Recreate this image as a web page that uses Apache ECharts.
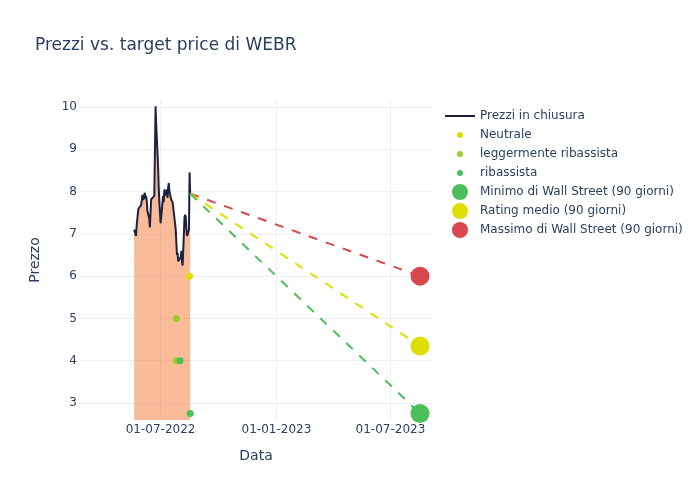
<!DOCTYPE html>
<html>
<head>
<meta charset="utf-8">
<script src="https://cdn.jsdelivr.net/npm/echarts@6/dist/echarts.min.js"></script>
<style>html,body{margin:0;padding:0;background:#fff}#c{width:700px;height:500px}</style>
</head>
<body>
<div id="c"></div>
<script>
// ---- data ----
const dates = ['2022-05-20','2022-05-23','2022-05-24','2022-05-25','2022-05-26','2022-05-27','2022-05-31',
'2022-06-01','2022-06-02','2022-06-03','2022-06-06','2022-06-07','2022-06-08','2022-06-09','2022-06-10',
'2022-06-13','2022-06-14','2022-06-15','2022-06-16','2022-06-17','2022-06-21','2022-06-22','2022-06-23',
'2022-06-24','2022-06-27','2022-06-28','2022-06-29','2022-06-30','2022-07-01','2022-07-05','2022-07-06',
'2022-07-07','2022-07-08','2022-07-11','2022-07-12','2022-07-13','2022-07-14','2022-07-15','2022-07-18',
'2022-07-19','2022-07-20','2022-07-21','2022-07-22','2022-07-25','2022-07-26','2022-07-27','2022-07-28',
'2022-07-29','2022-08-01','2022-08-02','2022-08-03','2022-08-04','2022-08-05','2022-08-08','2022-08-09',
'2022-08-10','2022-08-11','2022-08-12','2022-08-15','2022-08-16','2022-08-17'];
const closePrices = [7.1,6.95,7.2,7.35,7.5,7.6,7.68,
7.78,7.92,7.8,7.97,7.82,7.9,7.78,7.55,
7.35,7.15,7.5,7.82,7.85,7.9,7.88,10.02,
9.6,8.6,8.1,7.75,7.5,7.25,7.9,7.75,
8.05,7.9,8.05,7.85,8.1,8.2,8.0,7.8,
7.78,7.75,7.75,7.5,7.1,6.8,6.5,6.55,
6.35,6.33,6.45,6.6,6.35,6.25,7.4,7.45,
7.4,7.1,6.95,7.1,8.45,7.95];

const neutraleDates = ['2022-08-16'];
const neutraleValues = [6.0];
const leggermenteDates = ['2022-07-26','2022-07-26'];
const leggermenteValues = [5.0,4.0];
const ribassistaDates = ['2022-08-01','2022-08-17'];
const ribassistaValues = [4.0,2.75];

const targetDate = '2023-08-17';
const targetMin = 2.75;
const targetAvg = 4.35;
const targetMax = 6.0;

const yTicks = [3,4,5,6,7,8,9,10];
const xTickDates = ['2022-07-01','2023-01-01','2023-07-01'];
const xMinDate = '2022-02-23';
const xMaxDate = '2023-09-05';

// ---- build ----
const ts = s => { const p = s.split('-').map(Number); return new Date(p[0], p[1] - 1, p[2]).getTime(); };
const pad = n => (n < 10 ? '0' : '') + n;
const priceData = dates.map((d, i) => [ts(d), closePrices[i]]);
const pairs = (ds, vs) => ds.map((d, i) => [ts(d), vs[i]]);
const lastDate = ts(dates[dates.length - 1]);
const lastPrice = closePrices[closePrices.length - 1];
const tDate = ts(targetDate);

const FONT = 'DejaVu Sans';
const TXT = '#2a3f5f';
const RED = '#d8474e', YEL = '#dede00', GRN = '#4cbf5a', LGR = '#9ccc2e', NAVY = '#1c2340';

function legendItem(name, centerY, h, w, left, icon) {
  const l = {
    data: [name], left: left, top: centerY - 7, orient: 'vertical', padding: 0,
    itemWidth: w, itemHeight: h, itemGap: 0, selectedMode: false,
    textStyle: { fontFamily: FONT, fontSize: 12, color: TXT, lineHeight: 16 }
  };
  if (icon) l.icon = icon;
  return l;
}

const option = {
  animation: false,
  backgroundColor: '#fff',
  title: {
    text: 'Prezzi vs. target price di WEBR', left: 35, top: 37, padding: 0,
    textStyle: { fontFamily: FONT, fontSize: 17, fontWeight: 'normal', color: TXT }
  },
  legend: [
    legendItem('Prezzi in chiusura', 115, 2, 30, 445, 'rect'),
    legendItem('Neutrale', 134, 6, 30, 457),
    legendItem('leggermente ribassista', 153, 6, 30, 457),
    legendItem('ribassista', 172, 6, 30, 457),
    legendItem('Minimo di Wall Street (90 giorni)', 191, 16, 30, 452),
    legendItem('Rating medio (90 giorni)', 210, 16, 30, 452),
    legendItem('Massimo di Wall Street (90 giorni)', 229, 16, 30, 452)
  ],
  grid: { left: 80, top: 100, width: 352, height: 320 },
  xAxis: {
    type: 'value', min: ts(xMinDate), max: ts(xMaxDate),
    name: 'Data', nameLocation: 'middle', nameGap: 29,
    nameTextStyle: { fontFamily: FONT, fontSize: 14, color: TXT },
    axisLine: { show: false },
    axisTick: { show: false, customValues: xTickDates.map(ts) },
    axisLabel: {
      customValues: xTickDates.map(ts), margin: 4,
      fontFamily: FONT, fontSize: 12, color: TXT,
      formatter: v => { const d = new Date(v); return pad(d.getDate()) + '-' + pad(d.getMonth() + 1) + '-' + d.getFullYear(); }
    },
    splitLine: { show: true, lineStyle: { color: '#ebf0f8', width: 1 } }
  },
  yAxis: {
    type: 'value', min: 2.598, max: 10.166,
    name: 'Prezzo', nameLocation: 'middle', nameGap: 38,
    nameTextStyle: { fontFamily: FONT, fontSize: 14, color: TXT },
    axisLine: { show: false },
    axisTick: { show: false, customValues: yTicks },
    axisLabel: { customValues: yTicks, margin: 3, fontFamily: FONT, fontSize: 12, color: TXT },
    splitLine: { show: true, lineStyle: { color: '#ebf0f8', width: 1 } }
  },
  series: [
    {
      name: 'Prezzi in chiusura', type: 'line', data: priceData, symbol: 'none',
      lineStyle: { color: NAVY, width: 2 }, itemStyle: { color: NAVY },
      areaStyle: { color: 'rgba(244,120,50,0.5)', opacity: 1, origin: 'start' }, z: 2
    },
    {
      name: 'maxLine', type: 'line', data: [[lastDate, lastPrice], [tDate, targetMax]], symbol: 'none',
      lineStyle: { color: RED, width: 2, type: [9, 9] }, z: 3
    },
    {
      name: 'avgLine', type: 'line', data: [[lastDate, lastPrice], [tDate, targetAvg]], symbol: 'none',
      lineStyle: { color: YEL, width: 2, type: [9, 9] }, z: 3
    },
    {
      name: 'minLine', type: 'line', data: [[lastDate, lastPrice], [tDate, targetMin]], symbol: 'none',
      lineStyle: { color: GRN, width: 2, type: [9, 9] }, z: 3
    },
    { name: 'Neutrale', type: 'scatter', data: pairs(neutraleDates, neutraleValues), symbolSize: 7, itemStyle: { color: YEL, opacity: 1 }, z: 4 },
    { name: 'leggermente ribassista', type: 'scatter', data: pairs(leggermenteDates, leggermenteValues), symbolSize: 7, itemStyle: { color: LGR, opacity: 1 }, z: 4 },
    { name: 'ribassista', type: 'scatter', data: pairs(ribassistaDates, ribassistaValues), symbolSize: 7, itemStyle: { color: GRN, opacity: 1 }, z: 4 },
    { name: 'Minimo di Wall Street (90 giorni)', type: 'scatter', data: [[tDate, targetMin]], symbolSize: 19, itemStyle: { color: GRN, opacity: 1 }, z: 5 },
    { name: 'Rating medio (90 giorni)', type: 'scatter', data: [[tDate, targetAvg]], symbolSize: 19, itemStyle: { color: YEL, opacity: 1 }, z: 5 },
    { name: 'Massimo di Wall Street (90 giorni)', type: 'scatter', data: [[tDate, targetMax]], symbolSize: 19, itemStyle: { color: RED, opacity: 1 }, z: 5 }
  ]
};
echarts.init(document.getElementById('c'), null, { renderer: 'canvas' }).setOption(option);
</script>
</body>
</html>
